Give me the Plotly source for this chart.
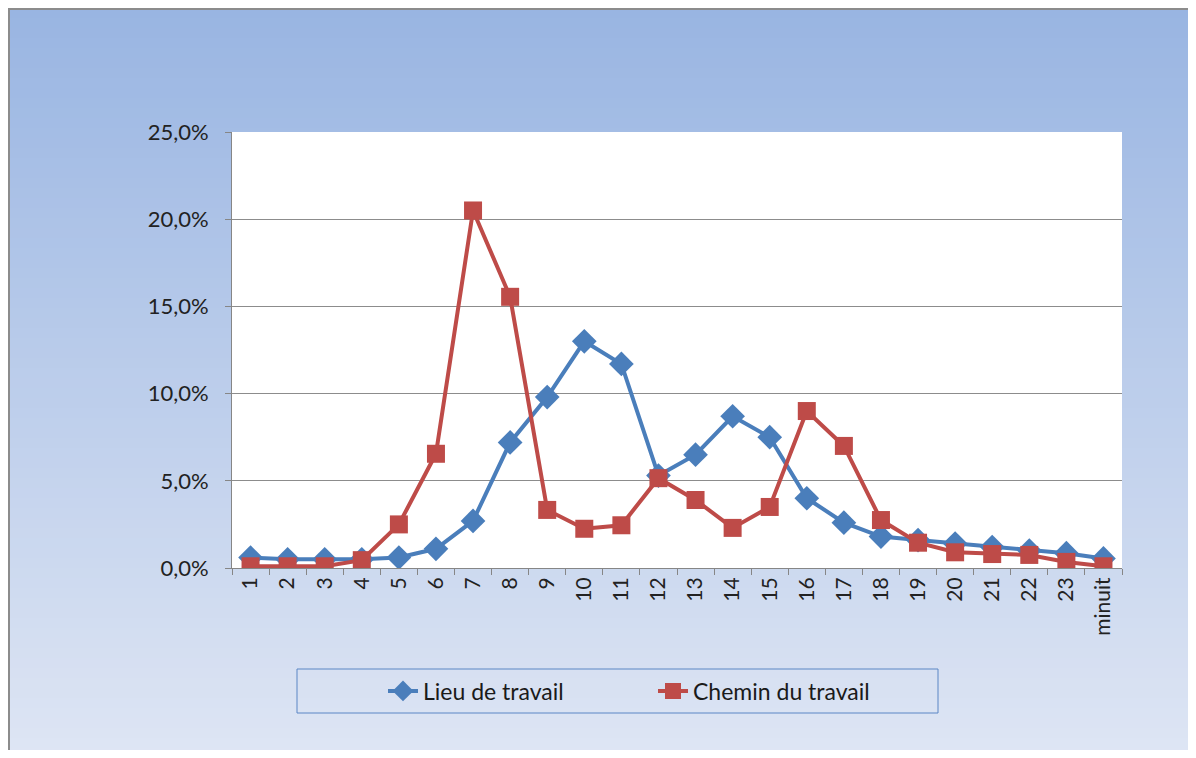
import plotly.graph_objects as go

hours = [str(i) for i in range(1, 24)] + ["minuit"]
lieu = [0.6, 0.5, 0.5, 0.5, 0.6, 1.1, 2.7, 7.2, 9.8, 13.0, 11.7, 5.3, 6.5, 8.7, 7.5, 4.0, 2.6, 1.8, 1.6, 1.4, 1.2, 1.0, 0.85, 0.55]
chemin = [0.1, 0.1, 0.1, 0.45, 2.5, 6.55, 20.5, 15.55, 3.33, 2.25, 2.45, 5.15, 3.9, 2.3, 3.5, 9.0, 7.0, 2.75, 1.45, 0.9, 0.8, 0.75, 0.35, 0.1]
ytick_vals = [0, 5, 10, 15, 20, 25]
ytick_text = ["0,0%", "5,0%", "10,0%", "15,0%", "20,0%", "25,0%"]

OFF = 8  # page body margin
W, H = 1196 - 2 * OFF, 758 - 2 * OFF
L, R, T, B = 232 - OFF, 1122 - OFF, 132 - OFF, 568 - OFF

def px(x):
    return (x - OFF - L) / (R - L)

def py(y):
    return (B - (y - OFF)) / (B - T)

fig = go.Figure()
fig.add_trace(go.Scatter(
    x=hours, y=lieu, name="Lieu de travail", mode="lines+markers",
    line=dict(color="#4A7EBB", width=4),
    marker=dict(symbol="diamond", size=19, color="#4A7EBB"),
))
fig.add_trace(go.Scatter(
    x=hours, y=chemin, name="Chemin du travail", mode="lines+markers",
    line=dict(color="#BE4B48", width=4),
    marker=dict(symbol="square", size=18, color="#BE4B48"),
))

shapes = []
top_c = (153, 181, 226)
bot_c = (223, 230, 244)
y0 = 8
step = 10
y = y0
while y < 758:
    f = (y - y0) / (758 - y0)
    c = tuple(int(round(top_c[i] + (bot_c[i] - top_c[i]) * f)) for i in range(3))
    shapes.append(dict(type="rect", xref="paper", yref="paper",
                       x0=px(8), x1=px(1210), y0=py(y), y1=py(min(y + step + 1, 770)),
                       line=dict(width=0), fillcolor="rgb(%d,%d,%d)" % c, layer="below"))
    y += step
# white plot area
shapes.append(dict(type="rect", xref="paper", yref="paper", x0=0, x1=1, y0=0, y1=1,
                   line=dict(width=0), fillcolor="white", layer="below"))
# frame borders
shapes.append(dict(type="line", xref="paper", yref="paper", x0=px(9), x1=px(9),
                   y0=py(8), y1=py(770), line=dict(color="#8C8C8C", width=2), layer="below"))
shapes.append(dict(type="line", xref="paper", yref="paper", x0=px(8), x1=px(1210),
                   y0=py(9), y1=py(9), line=dict(color="#8C8C8C", width=2), layer="below"))
# legend box
shapes.append(dict(type="rect", xref="paper", yref="paper", x0=px(297), x1=px(938),
                   y0=py(669), y1=py(713), line=dict(color="#5B86C5", width=1),
                   fillcolor="rgba(0,0,0,0)", layer="below"))

fig.update_layout(
    width=W, height=H,
    margin=dict(l=L, r=W - R, t=T, b=H - B),
    paper_bgcolor="white", plot_bgcolor="white",
    font=dict(family="Lato, Open Sans, sans-serif", size=21, color="#222222"),
    shapes=shapes,
    showlegend=True,
    legend=dict(orientation="h", x=px(383), xanchor="left", y=py(691), yanchor="middle",
                bgcolor="rgba(0,0,0,0)", borderwidth=0,
                font=dict(family="Lato, Open Sans, sans-serif", size=23, color="#1a1a1a"),
                entrywidth=225, entrywidthmode="pixels"),
    xaxis=dict(type="category", range=[-0.5, 23.5], showline=True, linecolor="#868686", linewidth=1,
               ticks="outside", tickson="boundaries", ticklen=6, tickcolor="#868686",
               tickangle=-90, showgrid=False, tickfont=dict(size=21, color="#222222")),
    yaxis=dict(range=[0, 25], tickvals=ytick_vals, ticktext=ytick_text,
               showline=True, linecolor="#868686", linewidth=1,
               ticks="outside", ticklen=6, tickcolor="#868686",
               showgrid=True, gridcolor="#8C8C8C", gridwidth=1, zeroline=False,
               ticklabelstandoff=12, tickfont=dict(size=22, color="#222222")),
)

fig.write_html("out.html")
